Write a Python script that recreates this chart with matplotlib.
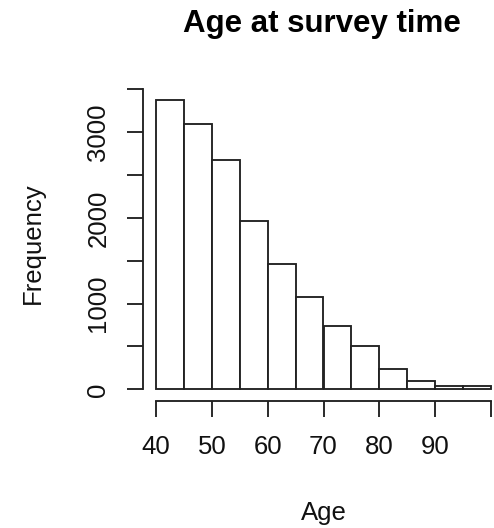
import numpy as np
import matplotlib.pyplot as plt

plt.rcParams['font.family'] = ['Liberation Sans', 'DejaVu Sans']

# histogram of age at survey time, 5-year bins from 40 to 100
bin_edges = np.arange(40, 101, 5)
counts = [3372, 3099, 2672, 1967, 1462, 1073, 739, 505, 233, 97, 38, 35]

x_ticks = [40, 50, 60, 70, 80, 90, 100]
x_labels = ['40', '50', '60', '70', '80', '90', '']
y_ticks = [0, 500, 1000, 1500, 2000, 2500, 3000, 3500]
y_labels = ['0', '', '1000', '', '2000', '', '3000', '']

W, H = 494, 528
fig = plt.figure(figsize=(W / 100, H / 100), dpi=100)
ax = fig.add_axes([142.6 / W, 1 - 400.9 / H, 361.8 / W, 312.1 / H])

lw = 1.35
ax.bar(bin_edges[:-1], counts, width=5, align='edge',
       color='white', edgecolor='#222222', linewidth=lw)

# R-style axis limits: data range padded by 4%
span = bin_edges[-1] - bin_edges[0]
ax.set_xlim(bin_edges[0] - 0.04 * span, bin_edges[-1] + 0.04 * span)
top = max(counts)
ax.set_ylim(-0.04 * top, 1.04 * top)

for s in ['top', 'right']:
    ax.spines[s].set_visible(False)
ax.spines['left'].set_bounds(0, 3500)
ax.spines['bottom'].set_bounds(40, 100)
for s in ['left', 'bottom']:
    ax.spines[s].set_linewidth(lw)
    ax.spines[s].set_color('#222222')

ax.set_xticks(x_ticks)
ax.set_xticklabels(x_labels)
ax.set_yticks(y_ticks)
ax.set_yticklabels(y_labels, rotation=90, va='center')
ax.tick_params(axis='both', length=11.2, width=lw, color='#222222',
               labelsize=18.5, labelcolor='#111111')
ax.tick_params(axis='x', pad=13)
ax.tick_params(axis='y', pad=12)

fig.text(321.5 / W, 1 - 32 / H, 'Age at survey time', ha='center',
         va='baseline', fontsize=22.5, fontweight='bold')
fig.text(323.5 / W, 1 - 520 / H, 'Age', ha='center', va='baseline',
         fontsize=18.5, color='#111111')
fig.text(33 / W, 1 - 243 / H, 'Frequency', ha='center', va='center',
         rotation=90, fontsize=18.5, color='#111111')

fig.savefig('out.png', dpi=100)
